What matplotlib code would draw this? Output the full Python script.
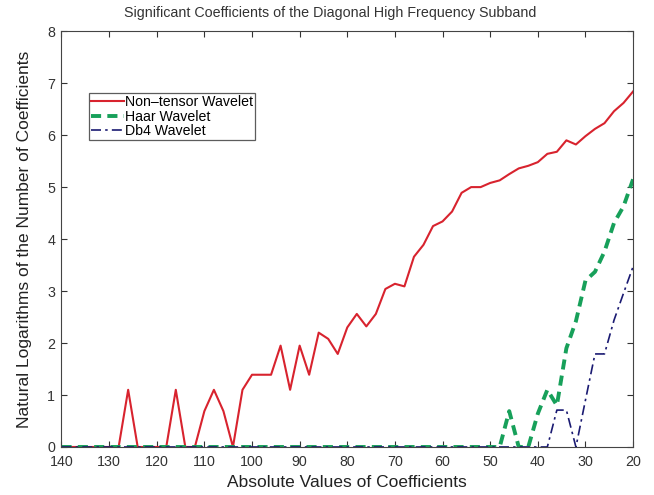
import matplotlib
matplotlib.use("Agg")
import matplotlib.pyplot as plt
import numpy as np

plt.rcParams['font.family'] = ['Liberation Sans', 'DejaVu Sans']

# absolute coefficient values, sampled every 2 from 140 down to 20
coef = np.arange(140, 19, -2)

non_tensor = [0, 0, 0, 0, 0, 0, 0, 1.10, 0, 0, 0, 0, 1.10, 0, 0, 0.69, 1.10, 0.69, 0,
              1.10, 1.39, 1.39, 1.39, 1.95, 1.10, 1.95, 1.39, 2.20, 2.08, 1.79, 2.30,
              2.56, 2.32, 2.56, 3.04, 3.14, 3.09, 3.66, 3.89, 4.25, 4.34, 4.53, 4.89,
              5.00, 5.00, 5.08, 5.13, 5.25, 5.36, 5.41, 5.48, 5.64, 5.68, 5.90, 5.82,
              5.98, 6.12, 6.23, 6.46, 6.62, 6.84]
haar = [0] * 47 + [0.69, 0, 0, 0.64, 1.10, 0.80, 1.90, 2.42, 3.20, 3.37, 3.76,
                   4.31, 4.63, 5.15]
db4 = [0] * 52 + [0.71, 0.71, 0, 0.90, 1.79, 1.79, 2.44, 2.96, 3.47]

fig = plt.figure(figsize=(6.54, 4.95), dpi=100)
ax = fig.add_axes([0.094, 0.097, 0.874, 0.84])

ax.plot(coef, non_tensor, color='#d8232e', lw=1.5, label='Non\u2013tensor Wavelet')
ax.plot(coef, haar, color='#17a05a', lw=2.8, ls=(0, (2.6, 1.6)), label='Haar Wavelet')
ax.plot(coef, db4, color='#1a1a72', lw=1.2, ls=(0, (6, 2.5, 1.5, 2.5)), label='Db4 Wavelet')

ax.set_xlim(140, 20)
ax.set_ylim(0, 8)
ax.set_xticks(np.arange(140, 19, -10))
ax.set_yticks(np.arange(0, 9, 1))
ax.tick_params(direction='in', top=True, right=True, labelsize=10.3, length=4,
               colors='#333333', labelcolor='#333333')
ax.tick_params(axis='x', pad=6)
ax.tick_params(axis='y', pad=4.5)
for s in ax.spines.values():
    s.set_color('#444444')

ax.set_title('Significant Coefficients of the Diagonal High Frequency Subband',
             fontsize=10.3, color='#333333', pad=10, x=0.47)
ax.set_xlabel('Absolute Values of Coefficients', fontsize=12.5, color='#222222', labelpad=4)
ax.set_ylabel('Natural Logarithms of the Number of Coefficients', fontsize=12.5,
              color='#222222', labelpad=11)

leg = ax.legend(loc='upper left', bbox_to_anchor=(0.048, 0.851), fontsize=10.2,
                frameon=True, fancybox=False, borderpad=0.15, labelspacing=0.03,
                handlelength=2.3, handletextpad=0.1, borderaxespad=0)
leg.get_frame().set_edgecolor('#333333')
leg.get_frame().set_linewidth(0.9)

fig.savefig('out.png', dpi=100)
